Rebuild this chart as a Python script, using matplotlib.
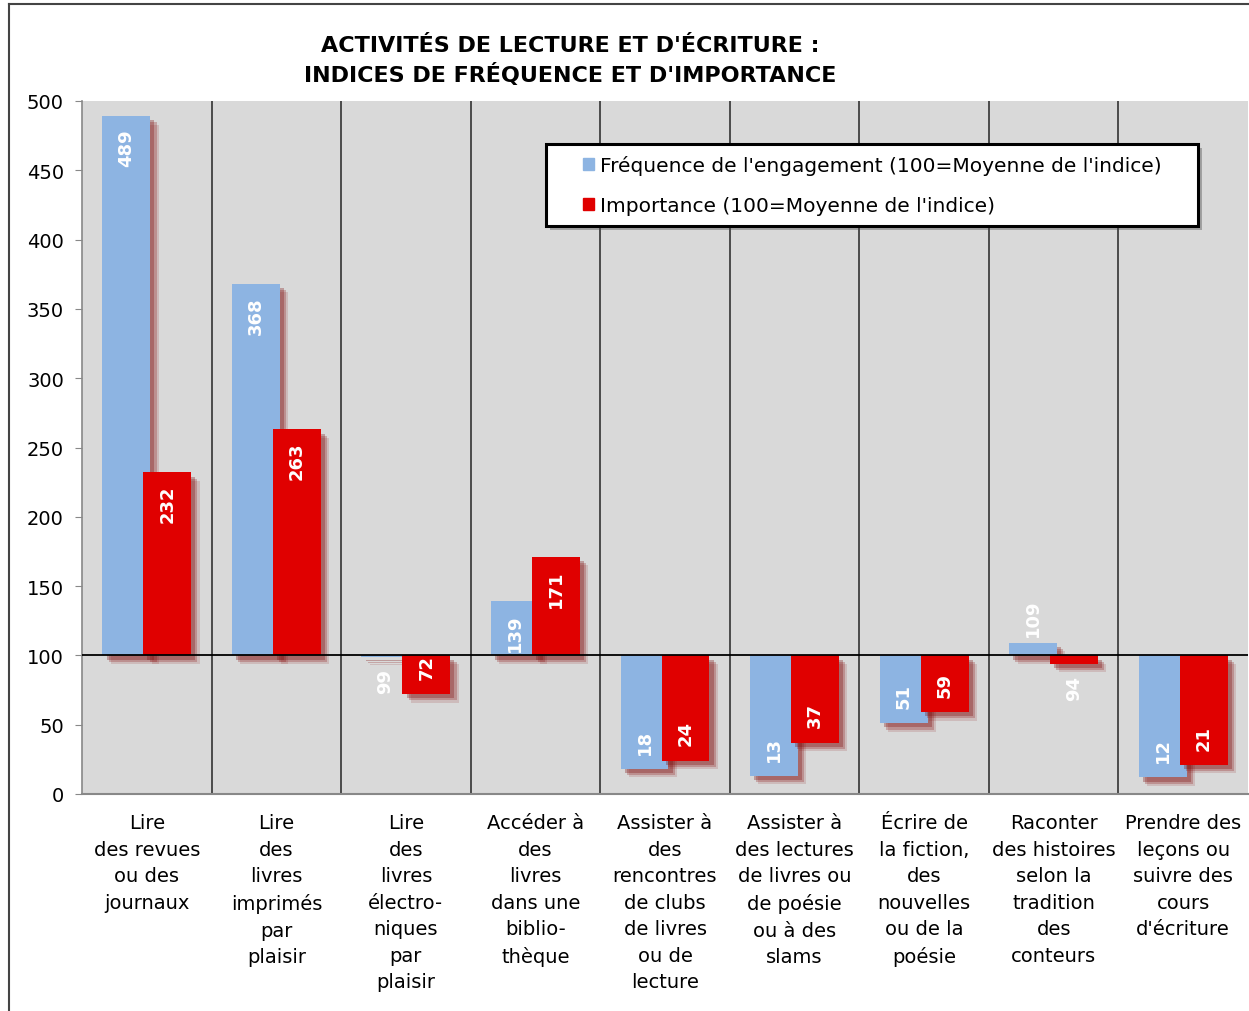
import matplotlib
matplotlib.use("Agg")
import matplotlib.pyplot as plt
import matplotlib.patheffects as pe
from matplotlib.lines import Line2D
from matplotlib.patches import Rectangle
import numpy as np

categories = [
    "Lire\ndes revues\nou des\njournaux",
    "Lire\ndes\nlivres\nimprimés\npar\nplaisir",
    "Lire\ndes\nlivres\nélectro-\nniques\npar\nplaisir",
    "Accéder à\ndes\nlivres\ndans une\nbiblio-\nthèque",
    "Assister à\ndes\nrencontres\nde clubs\nde livres\nou de\nlecture",
    "Assister à\ndes lectures\nde livres ou\nde poésie\nou à des\nslams",
    "Écrire de\nla fiction,\ndes\nnouvelles\nou de la\npoésie",
    "Raconter\ndes histoires\nselon la\ntradition\ndes\nconteurs",
    "Prendre des\nleçons ou\nsuivre des\ncours\nd'écriture",
]
frequence = [489, 368, 99, 139, 18, 13, 51, 109, 12]
importance = [232, 263, 72, 171, 24, 37, 59, 94, 21]
series_names = ["Fréquence de l'engagement (100=Moyenne de l'indice)",
                "Importance (100=Moyenne de l'indice)"]
yticks = list(range(0, 501, 50))
title = "ACTIVITÉS DE LECTURE ET D'ÉCRITURE :\nINDICES DE FRÉQUENCE ET D'IMPORTANCE"

BLUE = "#8DB4E2"
RED = "#E00000"
BASE = 100

plt.rcParams['font.family'] = ['DejaVu Sans']
fig = plt.figure(figsize=(12.49, 10.12), dpi=100)
W, H = 1249, 1012
ax = fig.add_axes([82 / W, 1 - 795 / H, (1248 - 82) / W, (795 - 102) / H])
ax.set_facecolor("#D9D9D9")

n = len(categories)
x = np.arange(n)
width = 0.37
off = 0.158

shadow = [pe.SimplePatchShadow(offset=(6, -6), shadow_rgbFace="#8B1010", alpha=0.15),
          pe.SimplePatchShadow(offset=(4.5, -4.5), shadow_rgbFace="#8B1010", alpha=0.25),
          pe.SimplePatchShadow(offset=(3, -3), shadow_rgbFace="#7A0A0A", alpha=0.3),
          pe.Normal()]

ax.set_xlim(-0.5, n - 0.5)
ax.set_ylim(0, 500)

# separators
for i in range(1, n):
    ax.axvline(i - 0.5, color="#333333", lw=1.2, zorder=1)

b1 = ax.bar(x - off, np.array(frequence) - BASE, bottom=BASE, width=width,
            color=BLUE, zorder=3, label=series_names[0], path_effects=shadow)
b2 = ax.bar(x + off, np.array(importance) - BASE, bottom=BASE, width=width,
            color=RED, zorder=4, label=series_names[1], path_effects=shadow)

ax.axhline(BASE, color="black", lw=1.3, zorder=5)

def label(xs, vals):
    for xi, v in zip(xs, vals):
        d = v - BASE
        inside = abs(d) > 25
        kw = dict(textcoords="offset points", rotation=90, ha="center",
                  color="white", fontsize=13, fontweight="bold", zorder=6)
        if d >= 0:
            if inside:
                ax.annotate(str(v), (xi, v), xytext=(0, -9), va="top", **kw)
            else:
                ax.annotate(str(v), (xi, v), xytext=(0, 5), va="bottom", **kw)
        else:
            if inside:
                ax.annotate(str(v), (xi, v), xytext=(0, 11), va="bottom", **kw)
            else:
                ax.annotate(str(v), (xi, v), xytext=(0, -8), va="top", **kw)

label(x - off, frequence)
label(x + off, importance)

ax.set_yticks(yticks)
ax.set_yticklabels([str(t) for t in yticks], fontsize=14)
ax.set_xticks(x)
ax.set_xticklabels(categories, fontsize=14, linespacing=1.5, va="top")
ax.tick_params(axis="x", length=0, pad=14)
ax.tick_params(axis="y", length=5, color="#888888", pad=8)
for s in ["top", "right"]:
    ax.spines[s].set_visible(False)
ax.spines["left"].set_color("#888888")
ax.spines["bottom"].set_color("#888888")
ax.spines["left"].set_linewidth(1.2)
ax.spines["bottom"].set_linewidth(1.5)

# legend box (frame drawn separately for exact padding)
bx0, bx1 = (546 - 82) / 1166, (1198 - 82) / 1166
by1, by0 = (795 - 145) / 693, (795 - 227) / 693
box = Rectangle((bx0, by0), bx1 - bx0, by1 - by0, transform=ax.transAxes,
                facecolor="white", edgecolor="black", lw=2.2, zorder=9,
                path_effects=[pe.SimplePatchShadow(offset=(3, -3), alpha=0.4), pe.Normal()])
ax.add_patch(box)
handles = [plt.Rectangle((0, 0), 1, 1, color=BLUE), plt.Rectangle((0, 0), 1, 1, color=RED)]
leg = ax.legend(handles, series_names, loc="center left",
                bbox_to_anchor=((583 - 82) / 1166, (795 - 186) / 693),
                fontsize=14.5, frameon=False,
                handlelength=0.55, handleheight=0.55, handletextpad=0.3,
                borderpad=0, labelspacing=1.05, borderaxespad=0)
leg.set_zorder(10)

fig.text(570 / W, 1 - 61 / H, title, ha="center", va="center", fontsize=16,
         fontweight="bold", linespacing=1.4)

# outer chart border
fig.add_artist(Line2D([9 / W, 9 / W], [0, 1 - 5 / H], color="#444444", lw=1.5))
fig.add_artist(Line2D([9 / W, 1], [1 - 5 / H, 1 - 5 / H], color="#444444", lw=1.5))

fig.savefig("out.png", dpi=100)
